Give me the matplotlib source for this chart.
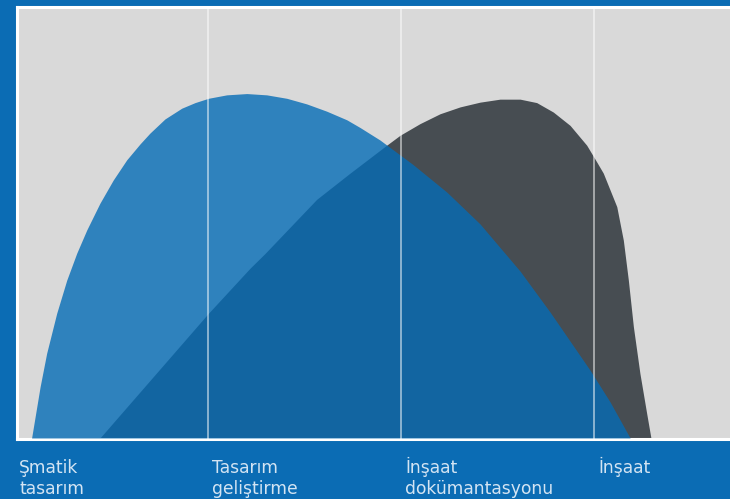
"""Tasar─▒m s├╝reci efor e─Яrileri (iki faz alan─▒, d├╢rt a┼Яama)."""
import matplotlib
matplotlib.use("Agg")
import matplotlib.pyplot as plt

BG = "#0b6cb4"; PANEL = "#d9d9d9"; DARK = "#474d52"; BLUE = "#056cb6"; TXT = "#d3e4f3"

# phase labels and their start positions (phase units)
phases = ["\u015ematik\ntasar\u0131m", "Tasar\u0131m\ngeli\u015ftirme",
          "\u0130n\u015faat\ndok\u00fcmantasyonu", "\u0130n\u015faat"]
phase_start = [0.0, 1.0, 2.0, 3.0]
dividers = [1.0, 2.0, 3.0]

# blue curve
blue_x = [0.086, 0.130, 0.164, 0.216, 0.268, 0.320, 0.372, 0.440, 0.509, 0.579, 0.648,
          0.699, 0.777, 0.864, 0.933, 1.002, 1.097, 1.201, 1.304, 1.408, 1.511, 1.615, 1.719,
          1.788, 1.891, 2.062, 2.237, 2.409, 2.617, 2.772, 2.979, 3.083, 3.187]
blue_y = [0, 11.9, 19.7, 29.0, 36.7, 43.0, 48.4, 54.6, 60.0, 64.7, 68.4,
          70.9, 74.2, 76.7, 78.0, 79.0, 79.8, 80.1, 79.8, 79.0, 77.7, 76.0, 74.0,
          72.2, 69.3, 63.6, 57.2, 49.8, 38.8, 29.3, 15.8, 8.4, 0]

# dark curve
dark_x = [0.440, 1.002, 1.218, 1.295, 1.563, 1.736, 1.926, 1.995, 2.098, 2.202, 2.306, 2.409,
          2.513, 2.617, 2.703, 2.789, 2.876, 2.962, 3.014, 3.048, 3.118, 3.152, 3.178,
          3.204, 3.238, 3.273, 3.295]
dark_y = [0, 29.0, 39.5, 42.9, 55.5, 61.6, 68.1, 70.4, 73.1, 75.4, 77.0, 78.1,
          78.8, 78.8, 78.0, 75.8, 72.7, 68.1, 64.2, 61.6, 53.8, 46.0, 36.7,
          25.9, 15.0, 5.7, 0]

fig = plt.figure(figsize=(7.3, 4.99), dpi=100, facecolor=BG)
ax = fig.add_axes([17/730, 60.5/499, 723/730, 432/499])
ax.set_facecolor(PANEL)
ax.set_xlim(2/193, 725/193)
ax.set_ylim(-0.12, 100.35)

ax.fill_between(dark_x, dark_y, 0, color=DARK, lw=0, zorder=2)
ax.fill_between(blue_x, blue_y, 0, color=BLUE, alpha=0.8, lw=0, zorder=3)
for d in dividers:
    ax.axvline(d, color="white", lw=1.3, alpha=0.55, zorder=4)

ax.set_xticks([]); ax.set_yticks([])
for s in ax.spines.values():
    s.set_color("white"); s.set_linewidth(2.2)

# labels under the panel, one line at a time
for lab, x0 in zip(phases, phase_start):
    for i, line in enumerate(lab.split("\n")):
        ax.annotate(line, xy=(x0, 0), xycoords=("data", "axes fraction"),
                    xytext=(3.0, -24.6 - 15.4*i), textcoords="offset points",
                    ha="left", va="baseline", fontsize=12.3, color=TXT,
                    family="DejaVu Sans", annotation_clip=False)

fig.savefig("out.png", dpi=100, facecolor=BG)
